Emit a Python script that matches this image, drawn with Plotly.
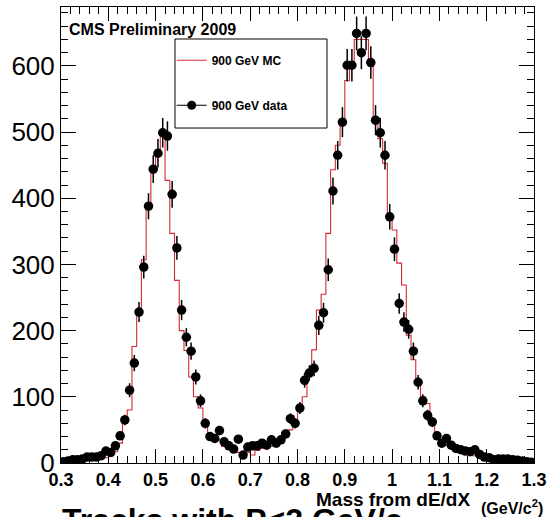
import numpy as np
import plotly.graph_objects as go

# ---- data -------------------------------------------------------------
bin_low, bin_high, n_bins = 0.3, 1.3, 100

data_counts = [
    2, 3, 5, 5, 6, 9, 9, 9, 11, 18, 16, 26, 41, 65, 110, 151,
    228, 296, 388, 444, 468, 499, 494, 406, 325, 231, 190, 169, 130, 94,
    60, 40, 37, 49, 32, 26, 21, 36, 12, 24, 26, 26, 30, 27, 35, 30, 35, 44, 67, 60, 83,
    125, 136, 143, 208, 227, 292, 411, 465, 515, 601, 601, 649, 620, 649, 605, 518, 499, 465, 372, 323, 241,
    213, 202, 169, 122, 94, 72, 62, 41, 30, 37, 27, 22, 20, 18, 17, 20, 13, 9, 8, 5, 6, 6, 6, 5, 4, 3, 2, 1,
]

mc_counts = [
    1, 1, 2, 2, 3, 4, 4, 5, 6, 8, 11, 17, 30,
    60, 80, 176, 226, 307, 387, 448, 473, 498, 427, 347, 276, 200, 170, 130, 100, 83,
    60, 40, 37, 35, 25, 25, 22, 16, 15, 16, 12, 19, 22, 25, 25, 32, 32, 40, 50, 65,
    88, 100, 130, 171, 231, 255, 347, 443, 480, 520, 578, 600, 640, 640, 640, 600, 520, 490, 453, 372, 352, 302,
    269, 193, 156, 125, 100, 90, 60, 45, 32, 27, 22, 20, 17, 15, 13, 11, 9, 7, 6, 5, 4, 4, 3, 3, 2, 2, 1, 1,
]

x_tick_vals = [0.3, 0.4, 0.5, 0.6, 0.7, 0.8, 0.9, 1.0, 1.1, 1.2, 1.3]
y_tick_vals = [0, 100, 200, 300, 400, 500, 600]

mc_name = "900 GeV MC"
data_name = "900 GeV data"

# ---- derived ----------------------------------------------------------
edges = np.linspace(bin_low, bin_high, n_bins + 1)
centers = 0.5 * (edges[:-1] + edges[1:])
data_err = np.sqrt(np.array(data_counts, dtype=float))

FONT = "Liberation Sans"
RED = "#d42a34"

fig = go.Figure()

# MC step histogram
fig.add_trace(go.Scatter(
    x=list(edges), y=list(mc_counts) + [mc_counts[-1]],
    mode="lines", line=dict(color=RED, width=1.1, shape="hv"),
    name=mc_name, legendgroup="mc", showlegend=True,
))

# data points with error bars
fig.add_trace(go.Scatter(
    x=centers, y=data_counts, mode="markers",
    marker=dict(color="black", size=9.5, symbol="circle"),
    error_y=dict(type="data", array=data_err, visible=True,
                 color="black", thickness=1.5, width=0),
    name=data_name, showlegend=False, legendgroup="data",
))
# legend entry for data (line + marker, ROOT "lp" style)
fig.add_trace(go.Scatter(
    x=[None], y=[None], mode="lines+markers",
    line=dict(color="black", width=1.2),
    marker=dict(color="black", size=9),
    name=data_name, legendgroup="data", showlegend=True,
))

axis_common = dict(
    showline=True, linecolor="black", linewidth=1, mirror="allticks",
    ticks="inside", tickcolor="black", tickwidth=1,
    showgrid=False, zeroline=False,
)

fig.update_xaxes(
    range=[bin_low, bin_high], tickmode="array", tickvals=x_tick_vals,
    ticklen=14,
    minor=dict(dtick=0.02, tick0=0.3, ticks="inside", ticklen=7, tickcolor="black", tickwidth=1),
    tickfont=dict(family=FONT, size=18, color="black", weight="bold"),
    **axis_common,
)
fig.update_yaxes(
    range=[0, 689], tickmode="array", tickvals=y_tick_vals,
    ticklen=15,
    minor=dict(dtick=20, tick0=0, ticks="inside", ticklen=7, tickcolor="black", tickwidth=1),
    tickfont=dict(family=FONT, size=26, color="black"),
    **axis_common,
)

fig.update_layout(
    width=558, height=517,
    margin=dict(l=61, r=24, t=7, b=54),
    paper_bgcolor="white", plot_bgcolor="white",
    font=dict(family=FONT, color="black"),
    showlegend=True,
    legend=dict(
        x=0.234, y=0.915, xanchor="left", yanchor="top",
        bgcolor="rgba(0,0,0,0)", borderwidth=0,
        font=dict(family=FONT, size=12, color="black", weight="bold"),
        tracegroupgap=26, traceorder="grouped",
    ),
    shapes=[dict(
        type="rect", xref="paper", yref="paper",
        x0=0.241, x1=0.5624, y0=0.7346, y1=0.9298,
        line=dict(color="black", width=1), fillcolor="rgba(0,0,0,0)",
    )],
    annotations=[
        dict(text="<b>CMS Preliminary 2009</b>", xref="paper", yref="paper",
             x=0.012, y=0.9496, xanchor="left", yanchor="middle", showarrow=False,
             font=dict(family=FONT, size=16, color="black")),
        dict(text="<b>Mass from dE/dX</b>", xref="paper", yref="paper",
             x=0.702, y=-0.079, xanchor="center", yanchor="middle", showarrow=False,
             font=dict(family=FONT, size=19, color="black")),
        dict(text="<b>(GeV/c<sup>2</sup>)</b>", xref="paper", yref="paper",
             x=0.884, y=-0.097, xanchor="left", yanchor="middle", showarrow=False,
             font=dict(family=FONT, size=16, color="black")),
        dict(text="<b>Tracks with P&lt;2 GeV/c</b>", xref="paper", yref="paper",
             x=-0.002, y=-0.082, xanchor="left", yanchor="top", showarrow=False,
             font=dict(family=FONT, size=32, color="black")),
    ],
)

fig.write_html("out.html")
